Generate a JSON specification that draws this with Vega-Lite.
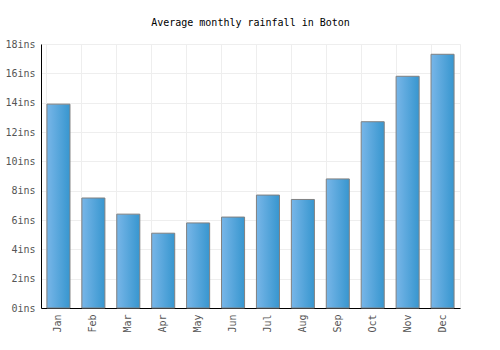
{
  "$schema": "https://vega.github.io/schema/vega-lite/v6.json",
  "autosize": {"type": "none"},
  "padding": {"left": 41, "top": 44, "right": 40, "bottom": 42},
  "width": 419,
  "height": 264,
  "background": "white",
  "title": {"text": "Average monthly rainfall in Boton", "font": "DejaVu Sans Mono", "fontSize": 10, "fontWeight": "normal", "color": "#000", "offset": 11},
  "config": {"view": {"stroke": "#eeeeee"}},
  "data": {"values": [
    {"month": "Jan", "rain": 13.9},
    {"month": "Feb", "rain": 7.5},
    {"month": "Mar", "rain": 6.4},
    {"month": "Apr", "rain": 5.1},
    {"month": "May", "rain": 5.8},
    {"month": "Jun", "rain": 6.2},
    {"month": "Jul", "rain": 7.7},
    {"month": "Aug", "rain": 7.4},
    {"month": "Sep", "rain": 8.8},
    {"month": "Oct", "rain": 12.7},
    {"month": "Nov", "rain": 15.8},
    {"month": "Dec", "rain": 17.3}
  ]},
  "mark": {"type": "bar", "stroke": "#808080", "strokeWidth": 1,
    "color": {"gradient": "linear", "x1": 0, "x2": 1, "y1": 0, "y2": 0,
      "stops": [{"offset": 0, "color": "#78b6e8"}, {"offset": 1, "color": "#3796cf"}]}},
  "encoding": {
    "x": {"field": "month", "type": "ordinal", "sort": null,
      "scale": {"paddingInner": 0.34, "paddingOuter": 0.17},
      "axis": {"title": null, "labelAngle": -90, "bandPosition": 0,
        "grid": true, "gridColor": "#eeeeee", "ticks": false, "labelPadding": 6,
        "domainColor": "#000", "labelFont": "DejaVu Sans Mono", "labelFontSize": 10, "labelColor": "#555555"}},
    "y": {"field": "rain", "type": "quantitative",
      "scale": {"domain": [0, 18]},
      "axis": {"title": null, "values": [0,2,4,6,8,10,12,14,16,18], "labelExpr": "datum.value + 'ins'",
        "grid": true, "gridColor": "#eeeeee", "ticks": false, "labelPadding": 6,
        "domainColor": "#000", "labelFont": "DejaVu Sans Mono", "labelFontSize": 10, "labelColor": "#555555"}}
  }
}
